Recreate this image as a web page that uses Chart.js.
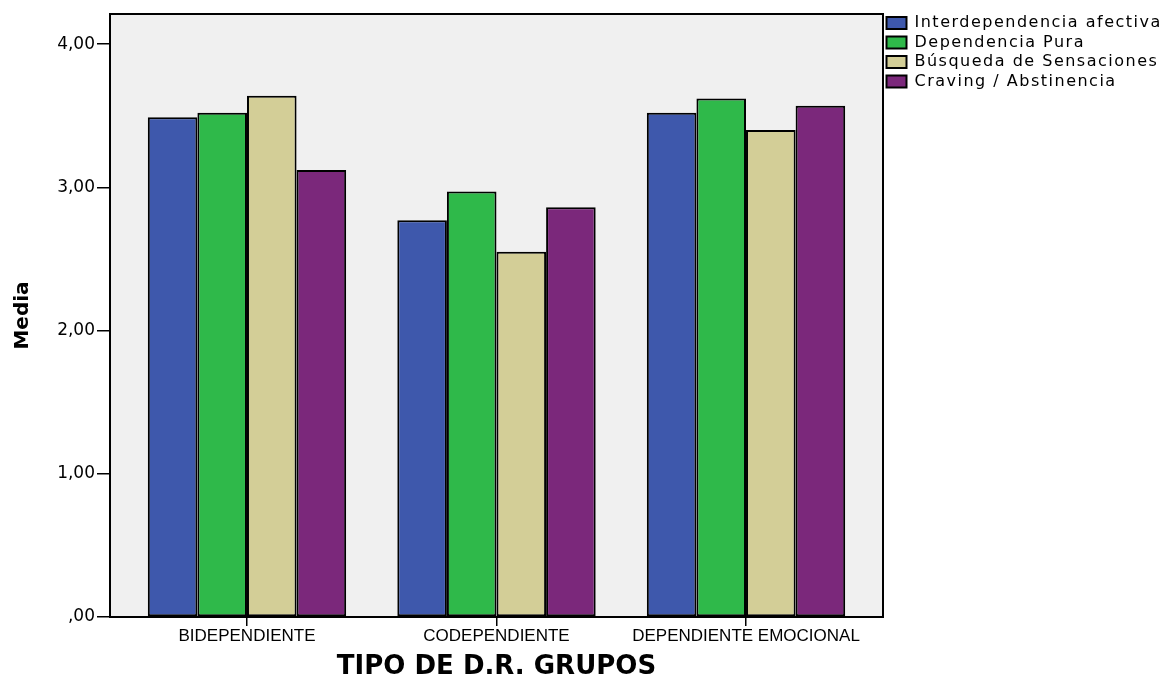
<!DOCTYPE html>
<html>
<head>
<meta charset="utf-8">
<script src="https://cdn.jsdelivr.net/npm/chart.js@4/dist/chart.umd.min.js"></script>
<style>
html,body{margin:0;padding:0;background:#ffffff;}
#wrap{width:1169px;height:677px;}
</style>
</head>
<body>
<div id="wrap"><canvas id="c" width="1169" height="677"></canvas></div>
<script>
// ---- data ----
const categories = ['BIDEPENDIENTE', 'CODEPENDIENTE', 'DEPENDIENTE EMOCIONAL'];
const seriesNames = ['Interdependencia afectiva', 'Dependencia Pura', 'Búsqueda de Sensaciones', 'Craving / Abstinencia'];
const interdependenciaAfectiva = [3.49, 2.77, 3.52];
const dependenciaPura = [3.52, 2.97, 3.62];
const busquedaSensaciones = [3.64, 2.55, 3.40];
const cravingAbstinencia = [3.12, 2.86, 3.57];
const yTickValues = [0, 1, 2, 3, 4];
const yTickLabels = [',00', '1,00', '2,00', '3,00', '4,00'];
const xTitle = 'TIPO DE D.R. GRUPOS';
const yTitle = 'Media';

// ---- style ----
const colors = ['#3E58AC', '#2FB94A', '#D3CE97', '#7B287B'];
const X_EDGE = 0.549;       // extra space at both ends of the category axis (in category units)
const LEGEND_WIDTH = 286;
const LEGEND_TOP = 11.5;
const X_AXIS_HEIGHT = 60;
const Y_AXIS_WIDTH = 110;

const seriesValues = [interdependenciaAfectiva, dependenciaPura, busquedaSensaciones, cravingAbstinencia];

const spssLook = {
  id: 'spssLook',
  beforeLayout(chart) {
    const lg = chart.legend;
    if (lg && !lg.__wrapped) {
      lg.__wrapped = true;
      const fit = lg.fit, draw = lg.draw;
      lg.fit = function () { fit.call(this); this.width = LEGEND_WIDTH; };
      lg.draw = function () {
        const c = this.ctx; c.save();
        try { c.letterSpacing = '1.5px'; } catch (e) {}
        draw.call(this); c.restore();
      };
    }
  },
  afterLayout(chart) {
    const x = chart.scales.x;
    x._startValue = -X_EDGE;
    x._valueRange = categories.length - 1 + 2 * X_EDGE;
    if (chart.legend) {
      const h = chart.legend.height;
      chart.legend.top = LEGEND_TOP;
      chart.legend.bottom = LEGEND_TOP + h;
    }
  },
  beforeDraw(chart) {
    const {ctx, chartArea: a} = chart;
    ctx.save();
    ctx.fillStyle = '#F0F0F0';
    ctx.fillRect(a.left, a.top, a.right - a.left, a.bottom - a.top);
    ctx.restore();
  },
  afterDatasetsDraw(chart) {
    const {ctx, chartArea: a} = chart;
    ctx.save();
    ctx.strokeStyle = '#000';
    ctx.lineWidth = 2;
    ctx.strokeRect(a.left, a.top, a.right - a.left, a.bottom - a.top);
    ctx.restore();
  }
};

new Chart(document.getElementById('c'), {
  type: 'bar',
  data: {
    labels: categories,
    datasets: seriesNames.map((name, i) => ({
      label: name,
      data: seriesValues[i],
      backgroundColor: colors[i],
      borderColor: '#000000',
      borderWidth: 2,
      borderSkipped: false,
      categoryPercentage: 0.795,
      barPercentage: 1.0
    }))
  },
  options: {
    responsive: false,
    animation: false,
    devicePixelRatio: 1,
    layout: { padding: { top: 14, left: 0, right: 0, bottom: 0 } },
    plugins: {
      tooltip: { enabled: false },
      legend: {
        position: 'right',
        align: 'start',
        labels: {
          boxWidth: 20,
          boxHeight: 12,
          padding: 3.5,
          color: '#000',
          font: { family: 'DejaVu Sans', size: 16 }
        }
      }
    },
    scales: {
      x: {
        offset: true,
        border: { display: false },
        afterFit(s) { s.height = X_AXIS_HEIGHT; },
        grid: { drawOnChartArea: false, offset: false, tickLength: 9, color: '#000', lineWidth: 1.5 },
        ticks: { color: '#000', padding: 0, maxRotation: 0, autoSkip: false,
                 font: { family: 'Liberation Sans', size: 17 } },
        title: { display: true, text: xTitle, color: '#000', padding: { top: 0, bottom: -3 },
                 font: { family: 'DejaVu Sans', size: 26, weight: 'bold', lineHeight: 1 } }
      },
      y: {
        min: 0,
        max: 4.21,
        border: { display: false },
        afterFit(s) { s.width = Y_AXIS_WIDTH; },
        afterBuildTicks(s) { s.ticks = yTickValues.map(v => ({ value: v })); },
        grid: { drawOnChartArea: false, tickLength: 13, color: '#000', lineWidth: 1.5 },
        ticks: {
          color: '#000', padding: 2, includeBounds: false, stepSize: 1,
          font: { family: 'DejaVu Sans', size: 17 },
          callback: (v) => { const k = yTickValues.indexOf(v); return k >= 0 ? yTickLabels[k] : ''; }
        },
        title: { display: true, text: yTitle, color: '#000', padding: { top: 11, bottom: 0 },
                 font: { family: 'DejaVu Sans', size: 20, weight: 'bold' } }
      }
    }
  },
  plugins: [spssLook]
});
</script>
</body>
</html>
